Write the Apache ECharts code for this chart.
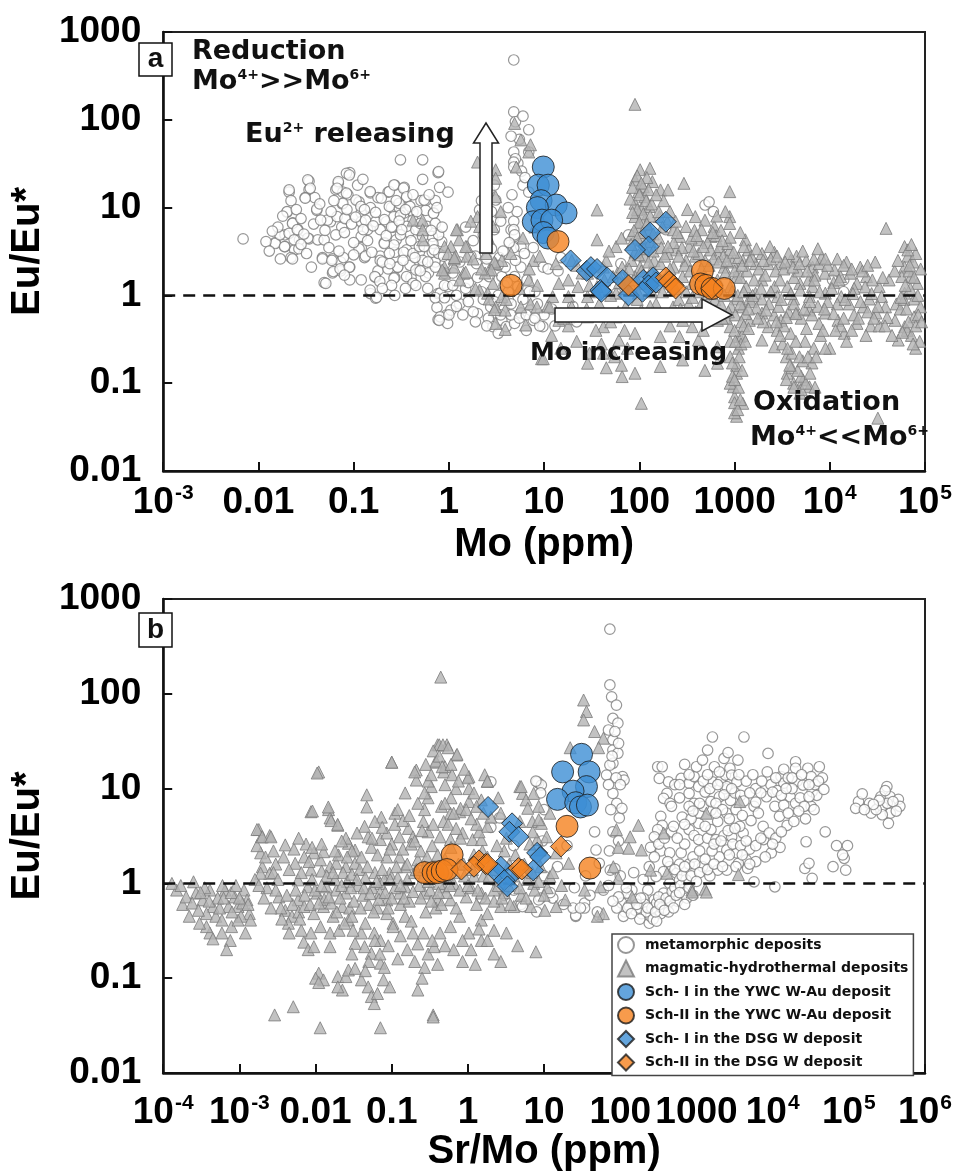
<!DOCTYPE html>
<html><head><meta charset="utf-8">
<script src="https://cdn.jsdelivr.net/npm/echarts@6/dist/echarts.min.js"></script>
<style>html,body{margin:0;padding:0;background:#fff}#c{width:960px;height:1176px}</style>
</head><body><div id="c"></div>
<script>
// ---------- tick labels ----------
const yTickLabels = ['0.01', '0.1', '1', '10', '100', '1000'];            // exponents -2..3
const xTickLabelsA = ['10^-3', '0.01', '0.1', '1', '10', '100', '1000', '10^4', '10^5']; // -3..5
const xTickLabelsB = ['10^-4', '10^-3', '0.01', '0.1', '1', '10', '100', '1000', '10^4', '10^5', '10^6']; // -4..6
const seriesNames = ['metamorphic deposits', 'magmatic-hydrothermal deposits', 'Sch- I in the YWC W-Au deposit', 'Sch-II in the YWC W-Au deposit', 'Sch- I in the DSG W deposit', 'Sch-II in the DSG W deposit'];

// ---------- panel a : Mo (ppm) vs Eu/Eu* ----------
const metaA = [[0.0069,4.4],[0.021,15],[0.020,8.9],[0.034,20],[0.034,16],[0.031,13],[0.039,13],[0.041,9.3],[0.069,19],[0.065,16],[0.077,15],[0.091,25],[0.087,14],[0.076,11],[0.057,6.9],[0.081,7.6],[0.075,6.0],[0.023,6.7],[0.026,5.6],[0.019,4.9],[0.015,4.0],[0.019,3.6],[0.027,4.3],[0.034,4.4],[0.042,4.3],[0.049,4.3],[0.024,3.3],[0.022,2.7],[0.036,2.1],[0.047,2.7],[0.06,2.6],[0.073,2.4],[0.091,2.1],[0.073,1.9],[0.049,1.4],[0.06,1.8],[0.091,1.5],[0.114,11.6],[0.15,14.7],[0.12,8.7],[0.15,10],[0.18,13],[0.23,15],[0.27,18],[0.34,17],[0.31,35],[0.53,35],[0.53,21],[0.77,25],[0.8,17],[0.98,15],[0.36,13],[0.51,12],[0.57,12],[0.72,12],[0.25,10],[0.3,10],[0.12,6.9],[0.17,6.9],[0.22,6.9],[0.14,5.6],[0.19,5.6],[0.26,6],[0.34,8.7],[0.42,8.9],[0.57,9.3],[0.69,8.7],[0.12,4.7],[0.21,4.0],[0.28,4.3],[0.38,5.2],[0.53,5.2],[0.67,4.7],[0.84,4.1],[0.12,3.5],[0.13,2.7],[0.19,2.8],[0.27,3.1],[0.36,3.3],[0.49,3.1],[0.67,3.1],[0.18,1.9],[0.23,2.0],[0.29,2.1],[0.39,2.2],[0.53,2.1],[0.72,2.4],[0.91,2.3],[0.17,1.6],[0.27,1.6],[0.4,1.6],[0.61,1.8],[0.15,1.05],[0.17,0.93],[0.27,1.0],[0.77,0.53],[0.95,0.6],[0.75,0.73],[0.77,1.05],[0.98,1.1],
[0.015,3.9],[0.0168,4.9],[0.0188,3.6],[0.021,5.1],[0.0237,4.3],[0.0228,6.6],[0.0256,5.6],[0.0266,3.4],[0.0228,2.6],[0.020,9.0],[0.021,15.9],[0.033,20.7],[0.035,16.6],[0.031,12.8],[0.041,9.6],[0.033,4.5],[0.047,2.6],[0.059,2.5],[0.061,1.87],[0.072,2.0],[0.09,2.1],[0.078,2.7],[0.051,1.37],[0.053,7.2],[0.067,7.9],[0.081,7.5],[0.069,19.8],[0.084,24.6],[0.09,23.5],[0.067,16.6],[0.084,14.6],[0.077,11.2],[0.114,3.4],[0.133,2.8],[0.167,1.64],[0.188,1.44],[0.149,1.15],[0.174,0.95],[0.106,12.2],[0.119,10.3],[0.149,15.2],[0.133,7.2],[0.126,5.6],[0.195,12.8],[0.237,15.2],[0.265,18.1],[0.334,16.6],[0.36,13.3],[0.30,11.2],[0.237,10.3],[0.265,7.9],[0.31,8.2],[0.39,10.3],[0.42,7.2],[0.36,6.1],[0.45,5.6],[0.31,4.9],[0.265,3.75],[0.21,3.9],[0.237,3.0],[0.19,2.5],[0.334,3.1],[0.42,3.0],[0.49,3.6],[0.53,4.7],[0.59,6.1],[0.69,8.6],[0.55,12.2],[0.72,6.6],[0.78,4.9],[0.68,3.9],[0.53,2.5],[0.45,1.95],[0.36,1.64],[0.29,2.1],[0.265,1.57],[0.42,1.37],[0.57,1.64],[0.72,2.1],[0.78,3.0],[0.9,1.79],[0.97,1.26],[0.78,25.7],
[0.81,1.06],[0.72,0.94],[0.9,0.94],[1.05,0.68],[0.81,0.57],[0.97,0.48],[0.79,0.52],[2.75,0.74],[3.1,0.63],[3.6,0.52],[4.0,0.44],[4.9,0.48],[5.7,0.63],[7.2,0.68],[9.7,0.44],[2.9,0.44],[3.3,0.37],[7.7,0.52],[2.1,9.4],[2.4,7.9],[2.3,4.9],[2.55,4.1],[3.0,5.6],[2.9,7.2],[2.65,15.9],[3.0,18],[3.1,12.2],[1.9,2.8],[1.7,2.8],[1.95,2.3],[2.45,2.1],[2.65,1.64],[3.6,1.64],[3.9,2.1],[4.9,1.64],[5.7,2.1],[6.6,1.5],[5.3,1.26],[4.9,4.7],[4.5,5.6],[5.7,3.6],[5.3,32],[4.8,43],[6.9,77],[5.8,26],[5.0,36],[4.8,480],[4.8,123],[5.0,95],[6.9,43],[6.0,18],[6.9,15],[4.8,33],[4.8,29],[4.8,7.0],[4.8,5.6],[4.9,4.9],[4.8,3.5],[7.7,3.5],[9.8,2.1],[11,2.0],[14,1.9],[15,2.7],[9,0.45],[13,0.45],[17,0.58],[19,0.53],[77,4.9],[64,2.3],[57,1.05],[190,5.6],[490,10.7],[600,9],[540,11.6],[10700,1.5],[14000,1.5],[14000,1.1],[1000,1.6],[1100,1.7],[1.5,1.2],[2.2,1.1],[3.3,1.0],[4.2,0.9],[1.3,0.8],[2.0,0.62],[6.0,0.9],[8.0,1.1],[3.8,1.3],
[0.012,4.1],[0.013,3.2],[0.016,6.0],[0.017,2.6],[0.014,5.4],[0.018,8.0],[0.022,12],[0.025,9.5],[0.028,7.5],[0.03,5.0],[0.028,3.8],[0.032,3.0],[0.038,6.5],[0.044,11],[0.045,7.2],[0.05,5.5],[0.055,3.5],[0.058,9],[0.062,12],[0.065,4.9],[0.07,3.2],[0.08,5.2],[0.085,9.5],[0.095,6.5],[0.1,4.0],[0.1,2.9],[0.105,7.8],[0.11,18],[0.125,21],[0.13,9.5],[0.14,4.2],[0.155,3.1],[0.16,6.2],[0.17,8.8],[0.2,2.4],[0.21,7.3],[0.22,4.8],[0.24,2.3],[0.25,6],[0.28,12],[0.3,7],[0.32,5.6],[0.33,2.5],[0.35,9.5],[0.4,4.2],[0.42,14],[0.44,2.7],[0.46,9],[0.5,6.6],[0.5,1.9],[0.55,3.6],[0.6,2.4],[0.62,14],[0.65,5.5],[0.7,3.3],[0.75,10],[0.85,6],[0.88,2.8],[0.9,1.3],[0.6,1.2],[0.45,1.3],[0.35,1.2],[0.25,1.3],[0.2,1.2],[0.12,1.5],[0.08,1.7],
[1.2,1.0],[1.6,0.85],[2.3,0.9],[3.0,0.85],[3.8,0.7],[4.5,0.6],[5.5,0.55],[6.5,0.4],[2.6,0.55],[1.8,0.65],[1.4,0.6],[4.2,1.1],[5.0,2.5],[6.2,3.0],[3.4,2.7],[4.1,1.4],[7.0,1.1],[8.5,0.8],[10,0.6],[12,0.7],[15,0.62],[20,0.75],[22,0.5],[5.2,9],[4.6,14],[6.3,22],[5.5,60],[4.5,65],[6.0,110],
[1.1,1.8],[1.3,2.4],[1.6,1.4],[2.0,1.6],[2.5,2.6],[2.8,3.4],[3.3,2.2],[3.7,3.2],[4.3,4.0],[1.8,4.2],[1.5,6],[2.2,12],[3.5,7],[4.2,10],[2.8,9],[1.2,0.75],[1.9,0.5],[2.5,0.45],[3.5,0.6],[4.5,0.8],[6.5,0.6],[8.0,0.55],[1.0,0.6],[1.1,1.3]];

const magA = [[2.0,33],[3.1,27],[3.1,21.6],[3.1,13.3],[5.1,29],[0.42,7.2],[0.53,7.2],[0.53,5.6],[0.53,4.3],[1.23,5.6],[1.28,4.3],[1.55,3.6],[1.05,3.6],[0.9,3.6],[0.98,3.0],[1.18,2.8],[1.55,2.8],[0.9,2.1],[1.14,2.1],[1.43,1.79],[0.9,1.79],[2.0,7.9],[2.1,6.1],[2.9,6.1],[2.45,3.0],[2.65,1.95],[3.1,2.3],[3.6,2.5],[2.9,1.37],[2.55,1.06],[2.1,1.15],[3.6,0.97],[3.1,0.74],[3.9,0.68],[5.7,0.74],[7.2,0.8],[8.4,0.74],[10.9,0.76],[6.9,1.5],[7.7,2.5],[9.0,2.8],[3.1,0.48],[3.9,0.41],[6.4,0.46],[9.4,0.19],[6.9,43],[7.2,52],[5.7,59],[4.9,91],[1.2,5.6],[1.5,3.6],[1.14,2.6],[1.8,2.6],[3.0,2.4],[0.85,1.95],[1.14,2.7],[1.5,1.84],[1.9,1.19],[2.8,1.95],[3.0,0.69],[2.4,1.8],[2.65,0.91],[90,150],
[102,27],[129,28],[90,20.7],[110,17.3],[98,15.2],[114,13.3],[90,11.2],[105,9.8],[127,10.3],[90,7.9],[114,7.2],[98,6.1],[127,5.6],[83,4.9],[105,4.3],[123,3.6],[90,3.1],[114,2.8],[143,2.5],[83,2.5],[102,2.1],[132,1.87],[90,1.64],[114,1.37],[83,1.26],[143,1.26],[98,1.06],
[137,19.8],[167,15.9],[200,15.9],[294,18.9],[890,15.2],[36,9.4],[36,4.3],[57,3.6],[59,1.79],[43,1.5],[36,1.26],[66,2.1],[162,7.9],[197,6.9],[228,5.6],[265,4.7],[309,6.1],[387,7.9],[489,7.2],[450,5.6],[610,6.1],[565,4.7],[420,4.3],[333,3.6],[246,3.3],[197,3.0],[167,2.3],[228,2.1],[309,2.5],[387,2.8],[489,2.5],[665,3.0],[780,2.1],[890,3.3],[890,7.9],[890,6.6],[1300,4.3],[1400,3.3],[1220,2.5],[1670,2.3],[1940,3.0],[2250,2.3],[2620,3.1],[3060,2.3],[3880,2.5],[4480,2.8],[5650,2.5],[6600,2.1],[7700,2.3],[8900,1.79],[11200,1.95],[13000,1.64],[16400,1.79],[19300,1.37],[24300,1.64],[20900,2.1],[39000,5.8],[61000,3.6],[66000,2.8],[61000,2.1],[71000,1.64],[83000,1.37],[57000,1.64],[42000,1.5],[33000,1.26],
[13.3,2.3],[19.5,2.5],[28.6,1.79],[42,2.1],[53,1.64],[72,1.5],[22.7,1.26],[14.3,1.37],[12.3,0.97],[18,0.97],[28.6,0.97],[57,1.06],[143,1.64],[180,1.5],[226,1.26],[285,1.64],[359,1.37],[488,1.15],[662,1.5],[900,1.26],[1050,1.64],[1320,1.26],[1660,1.06],[1940,1.5],[2630,1.26],[3580,1.26],[4860,1.37],[6600,1.26],[1050,0.91],[1430,0.91],[1940,0.91],[2820,0.97],[4170,0.91],[6120,0.97],[8980,1.06],[13200,0.97],[26000,0.91],[35000,0.97],[61100,1.06],[76800,0.91],
[11.4,0.74],[14.3,0.52],[19.5,0.74],[28.6,0.57],[42,0.44],[57,0.57],[72,0.74],[105,0.68],[166,0.63],[226,0.74],[285,0.52],[359,0.44],[488,0.63],[662,0.52],[900,0.44],[1220,0.74],[1430,0.52],[1940,0.63],[2260,0.44],[3070,0.52],[3870,0.37],[4500,0.63],[6120,0.68],[7700,0.48],[8980,0.63],[12200,0.52],[14200,0.37],[19300,0.48],[22500,0.74],[30600,0.63],[38500,0.74],[48500,0.52],[61100,0.44],[76800,0.57],[89600,0.74],[52400,0.31],[79800,0.25],[1130,0.34],[1940,0.31],[2630,0.26],[662,0.26],[418,0.31],[264,0.34],[166,0.34],[90,0.37],[61,0.31],[42,0.22],[28.6,0.169],[66,0.119],[90,0.13],[166,0.155],[285,0.184],[488,0.14],[662,0.169],[900,0.20],[1050,0.13],[970,0.091],[1220,0.059],[1050,0.042],[3580,0.13],[4170,0.1],[5250,0.109],[6120,0.091],[4860,0.077],[105,0.059],[9.8,0.19],
[32000,0.04],[1000,0.046],[1000,0.07],[900,0.1],[5000,0.12],[4000,0.15],[7000,0.09],[3500,0.2],[6500,0.17],[30,1.3],[45,2.5],[25,1.8],[70,1.2],[50000,0.8],[70000,1.2],[90000,2.0],[85000,0.6],[65000,0.4],[45000,0.35],[27000,0.45],[18000,0.6],[15000,0.3],[10000,0.25],[12000,0.8],[3200,0.28],[4000,0.22],[5500,0.3],[6800,0.25],[8000,0.35],[2800,0.4],
[95,23],[120,22],[105,19],[85,17],[125,16],[100,14],[118,12],[80,12.5],[135,11],[95,9.5],[110,8.5],[85,8.8],[130,8.0],[100,6.8],[120,6.5],[88,5.5],[140,5.0],[108,5.2],[95,4.5],[130,4.1],[82,3.8],[112,3.4],[140,3.2],[98,2.9],[125,2.4],[105,1.9],[150,1.7],[88,1.5],[120,1.6],[135,1.1],[160,4.5],[175,6.0],[160,9.0],[180,12],[150,14],[170,3.5],[185,2.8],[210,2.0],[230,4.0],[250,5.2],[210,9.0],[240,7.0],[280,3.5],[300,2.2],[350,4.5],[380,5.5],[320,9.5],[420,3.0],[450,2.0],[520,4.0],[560,3.3],[600,2.6],[640,4.8],[700,3.6],[720,5.5],[760,2.8],[800,1.8],[850,3.9],[950,2.4],[1000,1.9],[1100,2.7],[1150,1.6],[1250,3.6],[1350,1.9],[1500,2.8],[1600,1.5],[1800,2.0],[2100,1.7],[2400,2.6],[2700,1.9],[3000,1.5],[3300,2.0],[3700,3.0],[4200,1.6],[4700,1.9],[5200,3.2],[6000,1.5],[7000,1.7],[8200,2.7],[9500,2.2],[11000,1.4],[15000,2.4],[18000,1.2],[22000,1.9],[28000,1.5],[30000,2.4],[900,4.6],[1150,5.2],[800,9.0],[650,8.0],
[150,0.8],[200,0.6],[260,0.9],[330,0.8],[400,0.58],[460,0.85],[560,0.7],[620,0.9],[720,0.8],[820,0.55],[920,0.75],[1020,0.6],[1150,0.8],[1300,0.62],[1500,0.85],[1700,0.72],[2000,0.5],[2300,0.8],[2600,0.6],[2900,0.75],[3300,0.45],[3700,0.65],[4200,0.8],[5000,0.55],[5700,0.42],[6500,0.6],[7500,0.75],[8500,0.4],[9500,0.85],[11000,0.62],[13000,0.45],[16000,0.8],[20000,0.55],[25000,0.65],[33000,0.45],[40000,0.56],[55000,0.7],[60000,0.9],[67000,0.5],[72000,0.35],[80000,0.45],[88000,0.3],[75000,0.28],[58000,0.38],[62000,1.3],[68000,1.9],[75000,2.4],[80000,3.0],[66000,3.3],[72000,3.8],
[1050,0.16],[950,0.12],[1100,0.09],[1000,0.06],[1080,0.05],[1150,0.065],[1000,0.11],[950,0.17],[1200,0.14],[1100,0.25],[900,0.3],[1200,0.35],[3500,0.11],[4200,0.09],[5000,0.085],[4600,0.14],[5600,0.1],[6200,0.13],[3800,0.16],[5200,0.18],
[12,0.35],[15,0.25],[18,0.45],[22,0.3],[25,0.6],[30,0.22],[35,0.4],[40,0.28],[50,0.5],[55,0.2],[60,0.65],[70,0.4],[45,0.15],[75,0.25],[65,0.16],[1.3,1.5],[2.2,2.0],[4.5,3.0],[6.0,4.5],[8.0,6.0],[7.0,2.0],[5.5,1.2],[4.0,0.9],[8.5,1.3],[2.6,4.5],[1.7,7.0],[3.5,9.0],
[95,0.9],[130,0.75],[175,1.1],[210,0.45],[240,1.2],[270,0.7],[310,1.1],[360,0.95],[390,0.65],[430,1.1],[470,0.4],[520,0.85],[580,1.05],[640,0.6],[680,1.2],[740,0.55],[780,1.0],[860,0.65],[940,1.1],[1000,0.4],[1080,1.0],[1180,0.5],[1250,1.1],[1400,0.7],[1550,1.0],[1750,0.55],[1900,1.2],[2150,0.68],[2400,1.1],[2750,0.5],[3100,0.9],[3500,0.56],[3900,1.05],[4400,0.62],[4900,1.15],[5400,0.7],[6200,0.85],[6900,1.5],[7800,1.1],[8800,0.7],[10500,1.2],[12500,1.5],[14500,0.9],[17500,1.05],[21000,0.85],[23500,1.25],[27500,1.05],[32000,0.75],[36000,1.6],[48000,1.9],[52000,2.5],[56000,0.95],[64000,0.7],[69000,2.2],[77000,1.6],[84000,1.0],[92000,0.5],
[200,3.6],[260,2.8],[340,1.9],[370,3.2],[400,4.8],[470,3.6],[540,2.2],[590,5.2],[680,2.4],[740,4.2],[830,2.5],[980,3.1],[1200,2.2],[1450,2.5],[1700,3.4],[2000,2.5],[2350,3.6],[2800,2.8],[3400,2.4],[4100,2.1],[4800,2.3],[5800,1.9],[6800,2.6],[7500,3.4],[9000,2.6],[12000,2.6],[14000,2.2],[17000,2.0],[25000,2.2],
[1120,0.2],[1170,0.28],[1020,0.3],[1250,0.45],[1300,0.3],[1400,0.42],[3000,0.35],[3600,0.25],[4400,0.3],[4800,0.2],[5900,0.2],[7200,0.2],[9000,0.25],[11500,0.4],[14000,0.55],[17000,0.4],[24000,0.35],[29000,0.55],[38000,0.45],
[18,1.5],[22,2.2],[35,1.1],[50,1.0],[62,1.4],[78,2.0],[48,3.2],[65,4.5],[38,0.8],[28,0.7],[16,0.55]];

const ywc1A = [[9.8,29],[8.7,18],[11,18],[9.3,12],[13.4,10.7],[17,8.7],[8.5,10],[7.7,6.9],[9.5,7.2],[12,7.2],[9.8,5.2],[11,4.5]];
const ywc2A = [[14,4.1],[4.5,1.3],[460,1.9],[440,1.35],[500,1.3],[580,1.2],[780,1.2]];
const dsg1A = [[190,6.9],[130,5.2],[125,3.6],[90,3.3],[19,2.5],[28,1.9],[31,2.1],[36,2.0],[46,1.6],[39,1.15],[40,1.1],[67,1.5],[110,1.5],[140,1.6],[125,1.3],[150,1.4],[77,1.0],[108,1.1]];
const dsg2A = [[77,1.3],[190,1.6],[205,1.45],[230,1.3],[240,1.2],[575,1.2]];

// ---------- panel b : Sr/Mo vs Eu/Eu* ----------
const metaB = [[310,17],[355,17],[325,12.8],[430,11.8],[410,8.9],[370,7.9],[450,7.0],[470,6.5],[340,5.1],[355,4.1],[310,3.7],[470,3.5],[280,3.1],[250,2.4],[340,2.2],[445,2.1],[630,2.1],[800,1.6],[445,1.5],[370,1.33],[295,1.18],[550,1.28],[630,12.8],[800,11.4],[930,13.4],[1070,10.5],[800,8.9],[930,7.0],[800,6.5],[1070,5.5],[800,3.7],[1070,4.3],[930,3.2],[1070,2.9],[1400,3.0],[1550,3.7],[1900,4.5],[2500,5.5],[1550,5.9],[1230,6.5],[1550,7.3],[2000,8.2],[2400,10],[1620,11.8],[1230,12],[2080,12],[2400,13.9],[2300,20.8],[1720,17],[1400,25.5],[1620,35],[4200,35],[2750,16.4],[2900,13.9],[3400,11.8],[2500,10.5],[1800,2.9],[2300,3.2],[2900,3.1],[4100,3.4],[3700,4.0],[2500,2.25],[3400,2.1],[4500,1.77],[6000,1.7],[4700,1.44],[2500,1.38],[1900,1.38],[3550,1.63],[5700,6.5],[7600,2.9],[9600,2.1],[6000,10],[8700,23.5],[8300,8.2],[10700,6.5],[12900,13.4],[14000,11.4],[12300,5.1],[15500,4.1],[14000,6.7],[17000,8.2],[20000,7.0],[20000,19.2],[20000,16.4],[21000,12],[25000,10.9],[29000,16.4],[41000,17],[32000,13.4],[33000,9.3],[32000,6.5],[27500,2.75],[26500,1.44],[30000,1.63],[33000,1.13],[49000,3.5],[69000,2.5],[96000,2.5],[87000,1.84],[62000,1.5],[91000,1.38],[134000,7.3],[123000,6.2],[187000,7.0],[196000,5.5],[263000,8.2],[275000,6.5],[316000,10.5],[350000,8.2],[350000,5.5],[447000,7.7],[468000,6.5],[331000,4.3],[275000,5.3],[229000,6.0],[83000,2.0],[600,1.6],[900,1.9],[1200,1.5],[1500,1.2],[2000,1.9],[700,2.6],[1100,2.2],[3000,2.6],[5000,2.3],
[73,480],[73,124],[77,93],[89,76],[80,55],[93,49],[70,41.5],[80,32.6],[80,25.5],[93,23.6],[107,13.4],[112,12.3],[80,18.5],[73,17.7],[80,8.9],[66,13.9],[97,4.9],[46,3.5],[48,2.25],[53,1.63],[60,0.85],[34,0.62],[26,0.45],[53,0.45],[13,0.7],[9,0.7],[8.5,11.4],[74,1.38],[85,1.43],[135,0.70],[150,0.62],[190,0.48],[240,0.38],[230,0.85],[280,0.67],[370,0.79],[410,0.59],[200,0.70],[250,0.45],[340,0.48],[142,0.85],[123,0.79],[158,0.52],[445,1.0],[600,1.09],[730,1.09],[5700,1.04],[10700,0.92],[26,0.46],[34,0.55],[50,0.5],[24,0.55],
[3,0.75],[5,0.6],[8,0.5],[12,0.8],[18,0.6],[25,0.9],[30,0.55],[40,0.75],[6,1.3],[10,1.2],[15,1.5],[4,2.5],[2,1.1],[1.5,0.7],[20,2.5],[35,1.2],[2.0,11.8],[8.1,11.8],[9.2,10.9],[2.6,4.9],[2.0,3.9],[9.5,2.8],[5.2,0.57],[8.5,0.67],[4.0,0.85],[7.8,12],[9,9],[10,6],
[105,0.62],[115,0.5],[130,0.58],[160,0.68],[175,0.55],[210,0.6],[220,0.5],[260,0.55],[300,0.62],[320,0.72],[350,0.55],[400,0.7],[430,0.5],[480,0.82],[520,0.9],[560,0.65],[620,0.95],[680,0.8],[750,0.7],[180,0.42],[270,0.42],[300,0.4],[120,0.9],[95,0.72],[90,0.55],[80,0.65],[70,0.95],[100,1.2],[150,1.3],[200,1.1],[240,1.5],[280,1.9],[320,2.6],[380,3.0],[420,1.7],[520,1.4],[650,1.2],[700,1.5],[850,1.2],[950,1.6],[1100,1.3],[1300,1.8],[1600,2.2],[1700,2.6],[2100,2.8],[2600,3.6],[3200,3.8],[3800,2.5],[4500,2.8],[5200,4.6],[6500,5.5],[7500,4.0],[9000,3.4],[11000,3.0],[12500,2.4],[1300,9.2],[1800,7.0],[2200,6.0],[2800,7.5],[3200,9.0],[3800,8.5],[4500,12],[5500,14],[7000,9],[9500,11],[11500,9.5],[14000,16],[16000,13],[18000,10],[23000,8.0],[26000,6.5],[36000,11],[45000,13],[38000,8.5],[1000,17],[1200,20],[800,14],[700,18],[520,11],[600,8],[650,5],[500,4],[560,3],[850,4.8],[1300,4],[1800,5.5],[2700,4.8],[3300,6],[4000,5.2],[320000,7],[300000,9.5],[380000,7.3],[420000,5.8],[250000,7.5],[210000,6.8],[150000,8.8],[160000,6.0],
[85,40],[95,30],[78,22],[88,13],[100,11],[70,11],[90,7],[75,6],[105,6.2],[80,3.5],[95,2.8],[72,2.2],
[110,0.45],[125,0.55],[140,0.48],[165,0.6],[185,0.7],[230,0.55],[290,0.5],[330,0.6],[380,0.52],[450,0.65],[500,0.55],[540,0.75],[600,0.8],[700,0.6],[800,0.9],[900,0.75],[1000,1.05],[1400,1.4],[1700,1.6],[2200,1.5],[2700,2.0],[3300,1.5],[4000,2.0],[5000,1.6],[6000,2.5],[7000,3.0],[8000,1.9],[10000,2.6],[13000,3.5],[16000,5.5],[19000,4.5],[22000,5.8],[27000,4.8],[30000,8.2],[35000,6.0],[40000,12],[47000,9.8],[1500,10],[2000,15],[2600,24],[3500,20],[1100,7],[700,4.2],[900,5.8],[600,11],[1400,14],[1900,11],[2300,8.6],[2900,10],[3600,14],[4200,7.4],[5000,9],[6000,7.2],[7200,12],[8500,15],[10000,9.2],[11000,13],[13000,8.5],[15000,10],[18000,13],[24000,14],[30000,11]];

const magB = [[2.5e-4,1.04],[2.7e-4,0.79],[3.3e-4,0.67],[4.1e-4,0.85],[4.5e-4,0.57],[3.7e-4,0.48],[4.9e-4,0.45],[5.9e-4,0.41],[7.2e-4,0.57],[6.5e-4,0.85],[8.7e-4,0.72],[9.6e-4,0.57],[1.15e-3,0.85],[1.35e-3,0.48],[1.05e-3,0.45],[7.9e-4,0.35],[5.9e-4,0.30],[4.1e-4,0.30],[3.7e-4,0.35],[7.6e-4,0.25],[1.4e-3,0.41],[1.26e-3,0.67],[9.6e-4,0.41],
[1.8e-3,3.7],[1.95e-3,3.1],[2.5e-3,3.2],[1.9e-3,2.1],[2.0e-3,1.5],[2.5e-3,1.28],[1.9e-3,1.28],[4e-3,2.55],[3.3e-3,0.72],[4e-3,0.52],[4.9e-3,0.45],[4.4e-3,0.38],[5.9e-3,0.67],[1.7e-3,2.5],[2.2e-3,1.9],[3e-3,1.6],[2.8e-3,2.2],[3.5e-3,0.55],[5e-3,0.6],[6e-3,0.5],[4.5e-3,0.3],[7e-3,0.24],[8e-3,0.2],
[5.4e-3,1.63],[7.1e-3,1.9],[8.7e-3,1.39],[0.0116,1.77],[0.0127,2.16],[0.0155,1.5],[0.0187,1.63],[0.025,1.5],[0.033,1.63],[5.9e-3,1.09],[7.9e-3,0.92],[0.0105,0.79],[0.0139,0.92],[0.0187,0.85],[0.025,0.79],[7.1e-3,0.57],[9.5e-3,0.48],[0.0127,0.57],[0.017,0.45],[0.0225,0.57],[6.5e-3,0.32],[8.7e-3,0.30],[0.0116,0.35],[0.0155,0.30],[0.0204,0.32],[0.027,0.41],[9.5e-3,0.215],[0.0155,0.215],[0.033,2.25],[0.027,2.65],[0.040,1.9],[9.5e-3,2.1],[0.0148,6.0],[0.0155,4.9],[0.0196,4.1],[0.011,15],[8.7e-3,5.7],[0.049,3.1],[0.054,2.4],[0.044,4.0],[0.071,2.9],[0.086,3.4],[0.126,3.1],[0.1,19],[0.21,15.7],[0.21,12.3],[0.33,10.5],[0.38,19],[0.40,29],[0.53,29],[0.48,15],[0.71,22.6],[1.03,13.4],[1.03,10],[1.66,14],[1.8,11.9],[1.03,7.3],[0.78,5.7],[0.59,5.5],[0.48,4.5],[0.27,6.0],[0.26,4.5],[0.165,3.8],[0.19,3.1],[0.30,3.5],[0.43,3.1],[0.59,2.9],[0.85,3.4],[1.15,2.9],[1.5,2.9],[1.8,4.0],[1.5,7.6],[2.7,5.5],[5.2,8.9],[5.8,7.6],[4.8,10.5],[8.5,6.5],[4.8,4.5],[7,4.5],[9.2,4.3],[8.1,2.9],
[0.086,0.67],[0.086,0.48],[0.104,0.38],[0.15,0.45],[0.19,0.30],[0.22,0.23],[0.30,0.18],[0.36,0.215],[0.27,0.13],[0.22,0.075],[0.35,0.041],[0.43,0.30],[0.59,0.35],[0.78,0.45],[1.03,0.30],[1.5,0.41],[1.8,0.48],[2.7,0.57],[4.0,0.57],[1.5,0.25],[2.2,0.18],[2.7,0.15],[1.25,0.14],[0.85,0.15],[7.8,0.19],[0.59,0.67],[0.95,0.72],[1.5,0.79],[2.2,0.85],[0.48,0.92],[0.15,0.92],[0.27,0.79],[0.40,0.67],[0.126,0.79],[0.071,1.0],[0.094,1.28],[0.15,1.5],[0.22,1.77],[0.33,1.5],[0.086,1.9],[0.126,1.9],
[0.011,0.113],[0.0127,0.096],[0.0196,0.104],[0.025,0.104],[0.0225,0.075],[0.0196,0.081],[0.027,0.122],[0.033,0.127],[0.040,0.096],[0.049,0.081],[0.054,0.064],[0.059,0.054],[0.065,0.069],[0.078,0.096],[0.094,0.081],[0.071,0.144],[0.054,0.183],[0.044,0.215],[0.033,0.233],[0.059,0.30],[0.071,0.25],[0.104,0.35],[0.04,0.3],[0.06,0.25],[0.05,0.15],
[2.9e-3,0.041],[5.1e-3,0.05],[0.0115,0.03],[0.071,0.03],[0.35,0.039],[0.01,0.1],[0.011,0.09],
[0.44,150],[0.0105,14.6],[0.1,19],[0.42,29],[0.47,29],[0.55,27],[0.72,23],[0.38,19.5],[0.5,17],[0.2,15],[0.3,12],[0.5,11],[0.7,10],[0.047,8.6],[0.047,6.4],[9.1e-3,5.8],[0.0147,6.4],[0.016,4.6],[0.0195,4.2],[0.073,5.0],[0.11,5.5],[1.7e-3,3.7],[2e-3,3.1],[2.6e-3,3.1],[1.0,13],[1.8,12],
[33,86],[36,65],[33,53],[46,40],[60,34],[22,27],[52,27],[5.0,10.5],[7.3,8.9],[6.1,6.2],[8.5,4.7],[11.9,5.5],[7.1,3.5],[10.8,3.1],[14.4,2.1],[8.9,2.25],[21,1.63],[11.9,1.18],[7.3,1.0],[6.7,0.57],[10.2,0.52],[14.4,0.57],[19,0.67],[89,3.7],[135,3.1],[173,4.1],[94,2.4],[129,2.35],[190,2.25],[250,1.38],[410,1.28],[81,1.5],[94,1.13],[143,0.72],[55,0.92],[34,0.85],[60,0.48],[50,0.45],[3700,7.3],[1350,5.5],[370,3.4],[870,0.85],[1300,0.87],[3550,1.24],[880,0.81],[1350,0.81],[1.2,1.2],[2.5,1.1],[3.5,1.6],[1.8,1.9],[3,2.2],[2.5,0.95],[4.5,1.3],[6,1.1],
[1.5e-4,0.85],[1.8e-4,0.6],[2.2e-4,0.45],[2.0e-4,0.72],[3.0e-4,0.38],[3.5e-4,0.9],[5.2e-4,0.7],[6.0e-4,0.95],[8.0e-4,0.5],[1.1e-3,0.62],[1.2e-3,0.3],[4.5e-4,0.26],[6.8e-4,0.2],
[1.6e-3,1.1],[2.3e-3,0.9],[2.8e-3,1.3],[3.2e-3,1.1],[3.8e-3,1.9],[4.5e-3,1.4],[5.2e-3,2.3],[6.5e-3,1.3],[7.5e-3,2.6],[8.2e-3,1.7],[9e-3,1.1],[0.012,1.35],[0.013,0.68],[0.014,1.2],[0.016,0.62],[0.018,1.1],[0.02,2.0],[0.021,0.7],[0.023,1.3],[0.026,1.05],[0.028,0.55],[0.03,1.25],[0.032,0.65],[0.036,0.95],[0.038,1.4],[0.042,0.75],[0.045,1.15],[0.05,0.6],[0.055,0.9],[0.06,1.3],[0.065,0.55],[0.07,0.8],[0.08,1.1],[0.09,0.55],[0.11,0.9],[0.12,1.15],[0.13,0.6],[0.14,2.3],[0.16,1.1],[0.17,0.65],[0.18,2.6],[0.2,1.3],[0.23,0.95],[0.24,2.2],[0.26,1.2],[0.28,0.5],[0.29,1.9],[0.32,0.85],[0.34,2.5],[0.36,1.15],[0.38,0.55],[0.4,2.0],[0.42,1.0],[0.45,0.6],[0.5,1.8],[0.52,0.8],[0.55,1.2],[0.6,2.4],[0.65,1.0],[0.7,0.55],[0.75,1.6],[0.8,3.0],[0.9,1.2],[1.1,0.9],[1.2,2.0],[1.3,0.6],[1.4,3.5],[1.6,1.2],[1.7,0.7],[2.0,1.6],[2.2,0.65],[2.4,2.5],[3.0,0.8],[3.2,3.0],[3.6,0.6],[4.2,2.0],[5.0,0.75],[5.5,1.6],[6.5,2.6],[7.5,0.85],[9,1.5],[11,0.9],[13,1.3],[17,0.95],
[0.3,8],[0.45,6.5],[0.6,8],[0.8,6.2],[1.2,9],[0.9,16],[0.35,25],[0.28,18],[0.62,14],[0.15,9],[0.12,6],[0.06,4.5],[0.025,3],[0.03,2.2],[0.065,2.0],[0.1,2.6],[0.2,2.8],[0.25,3.6],[0.35,4.2],[0.55,4.2],[0.7,3.8],[1.3,4.2],[2.0,5.0],[2.5,8.0],[1.6,5.5],
[0.03,0.18],[0.045,0.12],[0.07,0.18],[0.08,0.13],[0.09,0.22],[0.12,0.16],[0.16,0.2],[0.2,0.15],[0.25,0.1],[0.13,0.28],[0.18,0.4],[0.26,0.3],[0.34,0.25],[0.4,0.14],[0.5,0.22],[0.65,0.2],[0.85,0.25],[1.1,0.2],[1.4,0.33],[1.8,0.25],[2.2,0.32],[3.2,0.3],[4.5,0.22],[0.03,0.45],[0.045,0.38],
[1.3e-4,1.0],[1.7e-4,0.95],[2.4e-4,0.62],[2.9e-4,0.52],[3.1e-4,0.8],[4.0e-4,0.65],[5.5e-4,0.55],[6.2e-4,0.7],[7.8e-4,0.8],[9.0e-4,0.95],[1.0e-3,0.7],[1.3e-3,0.6],
[1.8e-3,0.95],[2.1e-3,0.7],[2.6e-3,0.55],[3.0e-3,0.85],[3.6e-3,0.42],[4.2e-3,0.75],[5.5e-3,0.85],[6.2e-3,0.42],[7.2e-3,0.75],[8.5e-3,0.6],[9.8e-3,0.85],[0.011,0.62],[0.012,0.95],[0.015,0.72],[0.017,1.3],[0.019,0.5],[0.022,0.95],[0.024,0.38],[0.026,1.9],[0.029,0.9],[0.031,0.32],[0.035,1.1],[0.039,0.55],[0.043,0.9],[0.048,1.5],[0.052,0.78],[0.058,0.5],[0.063,1.05],[0.068,0.68],[0.075,1.4],[0.082,0.8],[0.095,1.1],[0.1,0.7],[0.115,1.5],[0.13,0.95],[0.145,0.7],[0.16,1.6],[0.19,0.82],[0.21,1.4],[0.24,0.7],[0.27,1.5],[0.3,1.05],[0.33,0.65],[0.37,1.4],[0.41,0.8],[0.46,1.2],[0.58,0.95],[0.68,1.3],[0.78,0.85],[0.88,1.6],[1.0,0.95],[1.15,1.4],[1.35,0.85],[1.55,2.2],[1.9,1.2],[2.3,1.4],[2.8,0.7],[3.4,0.95],[4.0,1.2],[4.8,0.9],[5.8,0.7],[7,1.3],[8.5,1.05],[10,0.75],
[0.006,3.0],[0.009,2.4],[0.012,2.6],[0.018,2.2],[0.022,2.8],[0.035,3.4],[0.055,3.0],[0.075,3.9],[0.095,2.3],[0.11,4.2],[0.14,4.6],[0.17,5.2],[0.22,7],[0.27,9],[0.33,14],[0.42,22],[0.46,17],[0.6,18],[0.75,12],[0.95,6],[1.1,4.8],[1.3,6.5],[0.5,7],[0.65,5.5]];

const ywc1B = [[31,23],[17.5,15],[39,15],[36,10.5],[24,9.4],[15,7.7],[26,7.1],[30,6.4],[37,6.7]];
const ywc2B = [[20,4.0],[40,1.45],[0.62,2.0],[0.27,1.3],[0.35,1.3],[0.4,1.3],[0.46,1.35],[0.53,1.4]];
const dsg1B = [[1.84,6.4],[3.8,4.3],[3.5,3.5],[4.6,3.1],[8.1,2.1],[8.9,1.9],[2.7,1.5],[2.4,1.3],[3.6,1.2],[3.0,1.08],[3.3,0.93],[7.2,1.37]];
const dsg2B = [[1.4,1.75],[1.7,1.6],[1.2,1.5],[1.8,1.6],[0.82,1.4],[4.6,1.45],[5.1,1.4],[16.6,2.45]];

// ---------- styles ----------
const F = "'Liberation Sans', Arial, sans-serif";
const FD = "'DejaVu Sans', sans-serif";
const BLUE = '#3d8ed5', ORANGE = '#f5821f';
const styles = [
  {symbol: 'circle', size: 10.5, itemStyle: {color: '#ffffff', borderColor: '#7d7d7d', borderWidth: 1.2}, z: 2},
  {symbol: 'triangle', size: 12, itemStyle: {color: '#b3b3b3', borderColor: '#7a7a7a', borderWidth: 1}, z: 3},
  {symbol: 'circle', size: 22, itemStyle: {color: BLUE, borderColor: '#1b1b1b', borderWidth: 1}, z: 5},
  {symbol: 'circle', size: 22, itemStyle: {color: ORANGE, borderColor: '#1b1b1b', borderWidth: 1}, z: 5},
  {symbol: 'diamond', size: 21, itemStyle: {color: BLUE, borderColor: '#1b1b1b', borderWidth: 1}, z: 6},
  {symbol: 'diamond', size: 21, itemStyle: {color: ORANGE, borderColor: '#1b1b1b', borderWidth: 1}, z: 6}
];
const dataA = [metaA, magA, ywc1A, ywc2A, dsg1A, dsg2A];
const dataB = [metaB, magB, ywc1B, ywc2B, dsg1B, dsg2B];

function labelFmt(arr, minExp) {
  return function (v) {
    const e = Math.round(Math.log10(v));
    const lab = arr[e - minExp];
    if (lab === undefined) return '';
    if (lab.indexOf('^') >= 0) {
      const p = lab.split('^');
      return '{b|' + p[0] + '}{s|' + p[1] + '}';
    }
    return '{b|' + lab + '}';
  };
}
const richLab = {
  b: {fontSize: 37, fontWeight: 'bold', fontFamily: F, color: '#000', lineHeight: 40},
  s: {fontSize: 21, fontWeight: 'bold', fontFamily: F, color: '#000', verticalAlign: 'top', lineHeight: 40, padding: [0, 0, 0, 1]}
};
function xAxisDef(gi, min, max, labels, minExp, name, margin, nameGap) {
  return {
    gridIndex: gi, type: 'log', logBase: 10, min: min, max: max, splitNumber: labels.length - 1,
    axisLine: {show: true, lineStyle: {color: '#111', width: 2.5}},
    axisTick: {show: true, inside: true, length: 9, lineStyle: {color: '#111', width: 2}},
    splitLine: {show: false}, minorTick: {show: false},
    axisLabel: {show: true, margin: margin, formatter: labelFmt(labels, minExp), rich: richLab, hideOverlap: false},
    name: name, nameLocation: 'middle', nameGap: nameGap,
    nameTextStyle: {fontSize: 40, fontWeight: 'bold', fontFamily: F, color: '#000'}
  };
}
function yAxisDef(gi) {
  return {
    gridIndex: gi, type: 'log', logBase: 10, min: 0.01, max: 1000, splitNumber: 5,
    axisLine: {show: true, lineStyle: {color: '#111', width: 2.5}},
    axisTick: {show: true, inside: true, length: 9, lineStyle: {color: '#111', width: 2}},
    splitLine: {show: false},
    axisLabel: {show: true, margin: 22, formatter: labelFmt(yTickLabels, -2), rich: richLab},
    name: 'Eu/Eu*', nameLocation: 'middle', nameGap: 78, nameRotate: 90,
    nameTextStyle: {fontSize: 40, fontWeight: 'bold', fontFamily: F, color: '#000'}
  };
}
const series = [];
[dataA, dataB].forEach(function (set, gi) {
  set.forEach(function (d, k) {
    const s = {
      type: 'scatter', name: seriesNames[k], xAxisIndex: gi, yAxisIndex: gi,
      symbol: styles[k].symbol, symbolSize: styles[k].size, itemStyle: styles[k].itemStyle,
      z: styles[k].z, data: d, emphasis: {disabled: true}, silent: true, large: false
    };
    if (k === 1) {
      s.markLine = {
        silent: true, symbol: ['none', 'none'], label: {show: false},
        lineStyle: {type: [12, 8], color: '#111', width: 2.5},
        data: [{yAxis: 1}]
      };
    }
    series.push(s);
  });
});

const supRich = {
  n: {fontSize: 27, fontWeight: 'bold', fontFamily: FD, color: '#111'},
  s: {fontSize: 14, fontWeight: 'bold', fontFamily: FD, color: '#111', verticalAlign: 'top'}
};
function txt(x, y, text, size, rich) {
  return {
    type: 'text', x: x, y: y, z: 100,
    style: {text: text, font: 'bold ' + size + 'px ' + FD, fill: '#111', align: 'left', verticalAlign: 'middle', textAlign: 'left', textVerticalAlign: 'middle', rich: rich}
  };
}
const graphics = [
  {type: 'rect', z: 100, shape: {x: 139, y: 43, width: 33, height: 33}, style: {fill: '#fff', stroke: '#111', lineWidth: 1.5}},
  {type: 'text', z: 101, x: 155.5, y: 59, style: {text: 'a', font: 'bold 28px ' + F, fill: '#111', align: 'center', verticalAlign: 'middle', textAlign: 'center', textVerticalAlign: 'middle'}},
  {type: 'rect', z: 100, shape: {x: 139, y: 613, width: 33, height: 34}, style: {fill: '#fff', stroke: '#111', lineWidth: 1.5}},
  {type: 'text', z: 101, x: 155.5, y: 630, style: {text: 'b', font: 'bold 28px ' + F, fill: '#111', align: 'center', verticalAlign: 'middle', textAlign: 'center', textVerticalAlign: 'middle'}},
  txt(192, 52, 'Reduction', 27),
  txt(192, 82, '{n|Mo}{s|4+}{n|>>Mo}{s|6+}', 27, supRich),
  txt(245, 135, '{n|Eu}{s|2+}{n| releasing}', 27, supRich),
  txt(530, 353, 'Mo increasing', 25),
  txt(753, 403, 'Oxidation', 27),
  txt(750, 438, '{n|Mo}{s|4+}{n|<<Mo}{s|6+}', 27, supRich),
  {type: 'polygon', z: 100, shape: {points: [[480, 253], [492, 253], [492, 143], [498.5, 143], [486, 123], [473.5, 143], [480, 143]]}, style: {fill: '#fff', stroke: '#222', lineWidth: 1.5}},
  {type: 'polygon', z: 100, shape: {points: [[555, 308], [702, 308], [702, 299], [732, 315], [702, 331], [702, 322], [555, 322]]}, style: {fill: '#fff', stroke: '#222', lineWidth: 1.5}}
];

const legendIcons = ['circle', 'triangle', 'circle', 'circle', 'diamond', 'diamond'];
const option = {
  animation: false,
  backgroundColor: '#fff',
  grid: [
    {left: 124, top: 32, width: 801, height: 439, show: true, borderColor: '#222', borderWidth: 2, backgroundColor: 'transparent'},
    {left: 123, top: 599, width: 802, height: 474, show: true, borderColor: '#222', borderWidth: 2, backgroundColor: 'transparent'}
  ],
  xAxis: [
    xAxisDef(0, 1e-3, 1e5, xTickLabelsA, -3, 'Mo (ppm)', 12, 54),
    xAxisDef(1, 1e-4, 1e6, xTickLabelsB, -4, 'Sr/Mo (ppm)', 20, 57)
  ],
  yAxis: [yAxisDef(0), yAxisDef(1)],
  legend: {
    orient: 'vertical', left: 612, top: 934, itemWidth: 16, itemHeight: 16, itemGap: 5.5,
    padding: [2, 5, 4, 5], borderColor: '#444', borderWidth: 1.5, backgroundColor: '#fff',
    selectedMode: false, z: 20,
    textStyle: {fontSize: 14, fontWeight: 'bold', fontFamily: FD, color: '#111', padding: [0, 0, 0, 6]},
    data: seriesNames.map(function (n, i) { return {name: n, icon: legendIcons[i]}; })
  },
  series: series,
  graphic: graphics
};
const chart = echarts.init(document.getElementById('c'), null, {renderer: 'canvas'});
chart.setOption(option);
</script>
</body></html>
